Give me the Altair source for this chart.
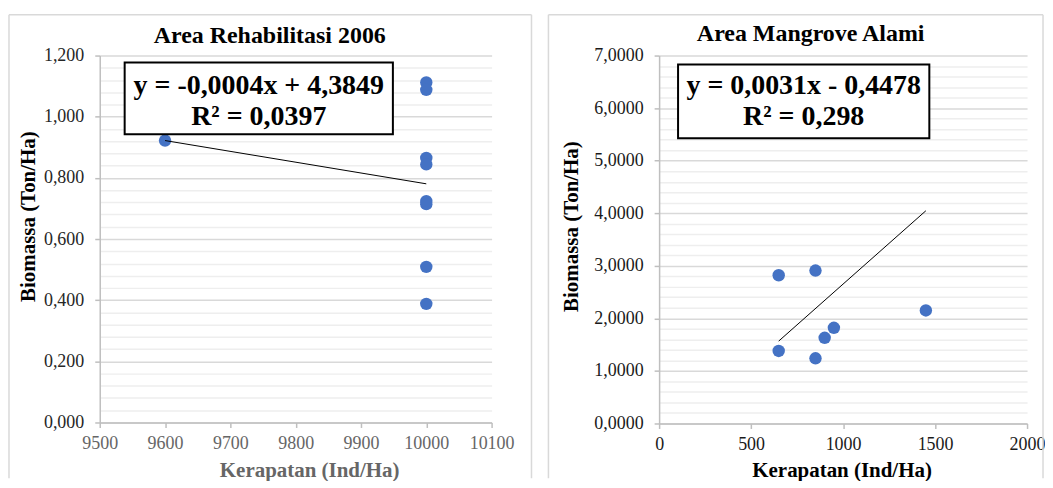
import altair as alt
import pandas as pd

FONT = "Liberation Serif"

# ---------------- data ----------------
rehab_title = "Area Rehabilitasi 2006"
rehab_x = [9600, 10000, 10000, 10000, 10000, 10000, 10000, 10000, 10000]
rehab_y = [0.922, 1.112, 1.088, 0.865, 0.844, 0.724, 0.714, 0.509, 0.388]
rehab_eq = ["y = -0,0004x + 4,3849", "R² = 0,0397"]
rehab_x_ticks = [9500, 9600, 9700, 9800, 9900, 10000, 10100]
rehab_y_ticks = [round(i * 0.04, 2) for i in range(31)]

alami_title = "Area Mangrove Alami"
alami_x = [650, 850, 1450, 950, 900, 650, 850]
alami_y = [2.82, 2.91, 2.15, 1.82, 1.63, 1.38, 1.24]
alami_eq = ["y = 0,0031x - 0,4478", "R² = 0,298"]
alami_trend_x = [650, 1450]
alami_slope = 0.0031
alami_intercept = -0.4478
alami_x_ticks = [0, 500, 1000, 1500, 2000]
alami_y_ticks = [round(i * 0.2, 1) for i in range(36)]

x_title = "Kerapatan (Ind/Ha)"
y_title = "Biomassa (Ton/Ha)"

one = pd.DataFrame({"k": [0]})


def y_axis(values, major_test, fmt, title_x, title_y, label_color):
    return alt.Axis(
        values=values,
        title=y_title,
        titleFont=FONT, titleFontSize=21, titleFontWeight="bold", titleColor="#000000",
        titleX=title_x, titleY=title_y, titleAngle=270, titleAlign="center", titleBaseline="middle",
        labelFont=FONT, labelFontSize=18, labelColor=label_color, labelPadding=11,
        labelExpr=f"{major_test} ? replace(format(datum.value, '{fmt}'), '.', ',') : ''",
        labelOverlap=False, labelBound=False, labelFlush=False,
        grid=True,
        gridColor={"condition": {"test": major_test, "value": "#d9d9d9"}, "value": "#eeeeee"},
        gridWidth=1.5,
        tickColor="#bfbfbf", tickSize=5, tickWidth=1.5,
        tickOpacity={"condition": {"test": major_test, "value": 1}, "value": 0},
        domainColor="#bfbfbf", domainWidth=1.5,
    )


def x_axis(values, title_x, title_y, label_color, title_color):
    return alt.Axis(
        values=values, format="d",
        title=x_title,
        titleFont=FONT, titleFontSize=21, titleFontWeight="bold", titleColor=title_color,
        titleX=title_x, titleY=title_y, titleBaseline="alphabetic", titleAlign="center",
        labelFont=FONT, labelFontSize=18, labelColor=label_color, labelPadding=7,
        labelOverlap=False, labelFlush=False,
        grid=False,
        tickColor="#bfbfbf", tickSize=5, tickWidth=1.5,
        domainColor="#bfbfbf", domainWidth=1.5,
    )


def decorations(W, H, left, top, right, bottom, title, tx, ty, eq, box, eq_x, eq_y):
    layers = []
    # panel border (left, top, right edges)
    layers.append(alt.Chart(one).mark_rule(color="#d9d9d9", strokeWidth=1.5).encode(
        x=alt.value(left), y=alt.value(top), y2=alt.value(bottom)))
    layers.append(alt.Chart(one).mark_rule(color="#d9d9d9", strokeWidth=1.5).encode(
        x=alt.value(left), x2=alt.value(right), y=alt.value(top)))
    if right is not None and right < W + 45:
        layers.append(alt.Chart(one).mark_rule(color="#d9d9d9", strokeWidth=1.5).encode(
            x=alt.value(right), y=alt.value(top), y2=alt.value(bottom)))
    # title
    layers.append(alt.Chart(pd.DataFrame({"t": [title]})).mark_text(
        font=FONT, fontSize=24, fontWeight="bold", color="#000000",
        align="center", baseline="alphabetic").encode(
        text="t:N", x=alt.value(tx), y=alt.value(ty)))
    # equation box
    layers.append(alt.Chart(one).mark_rect(fill="white", stroke="#000000", strokeWidth=2).encode(
        x=alt.value(box[0]), x2=alt.value(box[1]), y=alt.value(box[2]), y2=alt.value(box[3])))
    layers.append(alt.Chart(one).mark_text(
        font=FONT, fontSize=28, fontWeight="bold", color="#000000",
        align="center", baseline="alphabetic", lineHeight=31).encode(
        text=alt.value(eq), x=alt.value(eq_x), y=alt.value(eq_y)))
    return layers


# ---------------- left panel ----------------
LW, LH = 393, 368
rehab_df = pd.DataFrame({"x": rehab_x, "y": rehab_y})
lx = alt.X("x:Q", scale=alt.Scale(domain=[9500, 10100], nice=False, zero=False),
           axis=x_axis(rehab_x_ticks, 210, 54, "#666666", "#666666"))
ly = alt.Y("y:Q", scale=alt.Scale(domain=[0, 1.2], nice=False),
           axis=y_axis(rehab_y_ticks, "round(datum.value*100) % 20 === 0", ".3f", -71, 161, "#262626"))

left_pts = alt.Chart(rehab_df).mark_circle(size=155, color="#4472C4", opacity=1).encode(x=lx, y=ly)
left_trend = alt.Chart(rehab_df).transform_regression("x", "y").mark_line(
    color="#000000", strokeWidth=1).encode(x=lx, y=ly)

left_dec = decorations(LW, LH, -91, -41, 433, 424, rehab_title, 170.5, -13,
                       rehab_eq, (25, 294, 7, 79), 159.5, 39)
left = alt.layer(left_pts, left_trend, *left_dec).properties(width=LW, height=LH)

# ---------------- right panel ----------------
RW, RH = 369, 369
alami_df = pd.DataFrame({"x": alami_x, "y": alami_y})
trend_df = pd.DataFrame({"x": alami_trend_x,
                         "y": [alami_slope * v + alami_intercept for v in alami_trend_x]})
rx = alt.X("x:Q", scale=alt.Scale(domain=[0, 2000], nice=False),
           axis=x_axis(alami_x_ticks, 183, 53, "#1a1a1a", "#000000"))
ry = alt.Y("y:Q", scale=alt.Scale(domain=[0, 7], nice=False),
           axis=y_axis(alami_y_ticks, "round(datum.value*10) % 10 === 0", ".4f", -88, 171, "#1a1a1a"))

right_pts = alt.Chart(alami_df).mark_circle(size=155, color="#4472C4", opacity=1).encode(x=rx, y=ry)
right_trend = alt.Chart(trend_df).mark_line(color="#000000", strokeWidth=1).encode(x=rx, y=ry)

right_dec = decorations(RW, RH, -111, -41, 385, 424, alami_title, 152, -15,
                        alami_eq, (19, 271, 9, 83), 145, 39)
right = alt.layer(right_pts, right_trend, *right_dec).properties(width=RW, height=RH)

chart = alt.hconcat(left, right, spacing=15).properties(
    padding={"left": 0, "top": 5, "right": 0, "bottom": 0},
    background="white",
).configure_view(stroke=None)

chart.save("out.html", embed_options={"renderer": "svg", "actions": False})
